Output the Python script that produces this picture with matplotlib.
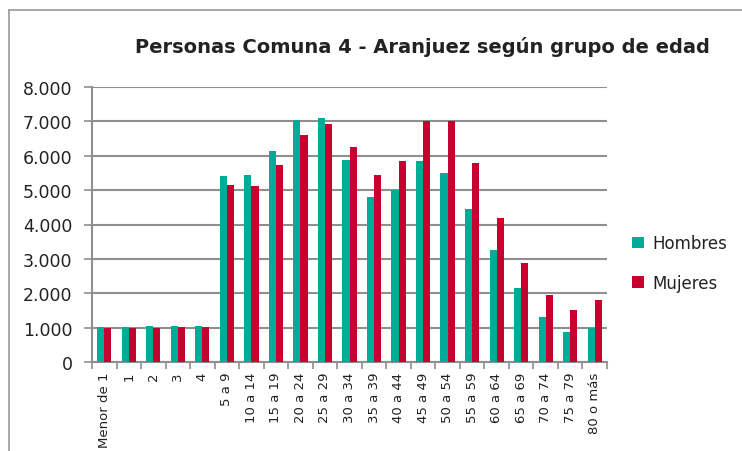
import matplotlib.pyplot as plt
import numpy as np
from matplotlib.lines import Line2D
from matplotlib.ticker import FuncFormatter

grupos = ['Menor de 1', '1', '2', '3', '4', '5 a 9', '10 a 14', '15 a 19', '20 a 24',
          '25 a 29', '30 a 34', '35 a 39', '40 a 44', '45 a 49', '50 a 54', '55 a 59',
          '60 a 64', '65 a 69', '70 a 74', '75 a 79', '80 o más']
hombres = [1020, 1020, 1050, 1050, 1050, 5420, 5450, 6150, 7050, 7110, 5880, 4810,
           4990, 5850, 5510, 4460, 3260, 2160, 1310, 870, 990]
mujeres = [990, 990, 1000, 1020, 1020, 5160, 5130, 5740, 6610, 6930, 6260, 5450,
           5850, 7000, 7000, 5800, 4190, 2880, 1950, 1520, 1810]

teal = '#00AB98'
red = '#C8002F'
grid = '#8f8f8f'

fig = plt.figure(figsize=(7.42, 4.52), dpi=100)
ax = fig.add_axes([92 / 742, 1 - 363 / 452, 515 / 742, 275 / 452])

x = np.arange(len(grupos))
w = 0.29
ax.bar(x - w / 2, hombres, w, color=teal, label='Hombres', zorder=3)
ax.bar(x + w / 2, mujeres, w, color=red, label='Mujeres', zorder=3)

ax.set_xlim(-0.5, len(grupos) - 0.5)
ax.set_ylim(0, 8000)
ax.set_yticks(range(0, 8001, 1000))
ax.yaxis.set_major_formatter(FuncFormatter(lambda v, p: f'{int(v):,}'.replace(',', '.')))
ax.yaxis.grid(True, color=grid, linewidth=1.5, zorder=0)
ax.tick_params(axis='y', length=6, color=grid, width=1.2, labelsize=12.5, pad=8,
               labelcolor='#222222')

ax.set_xticks(x)
ax.set_xticklabels(grupos, rotation=90, fontsize=9.5, color='#222222')
ax.tick_params(axis='x', length=0, pad=7)
ax.set_xticks(np.arange(-0.5, len(grupos), 1), minor=True)
ax.tick_params(axis='x', which='minor', length=5, color=grid, width=1.2)

for s in ['top', 'right']:
    ax.spines[s].set_visible(False)
for s in ['left', 'bottom']:
    ax.spines[s].set_color(grid)
    ax.spines[s].set_linewidth(1.5)

fig.text(422 / 742, 1 - 47 / 452, 'Personas Comuna 4 - Aranjuez según grupo de edad',
         ha='center', va='center', fontsize=14, fontweight='bold', color='#222222')

ax.legend(loc='center left', bbox_to_anchor=(1.02, 0.36), frameon=False, fontsize=12,
          handlelength=0.7, handleheight=0.7, handletextpad=0.5, labelspacing=1.3,
          labelcolor='#222222')

# frame around the chart
fig.add_artist(Line2D([9 / 742, 9 / 742], [0, 1 - 11 / 452], transform=fig.transFigure,
                      color='#999999', linewidth=1.2))
fig.add_artist(Line2D([9 / 742, 1.02], [1 - 11 / 452, 1 - 11 / 452], transform=fig.transFigure,
                      color='#999999', linewidth=1.2))

fig.savefig('out.png', dpi=100)
